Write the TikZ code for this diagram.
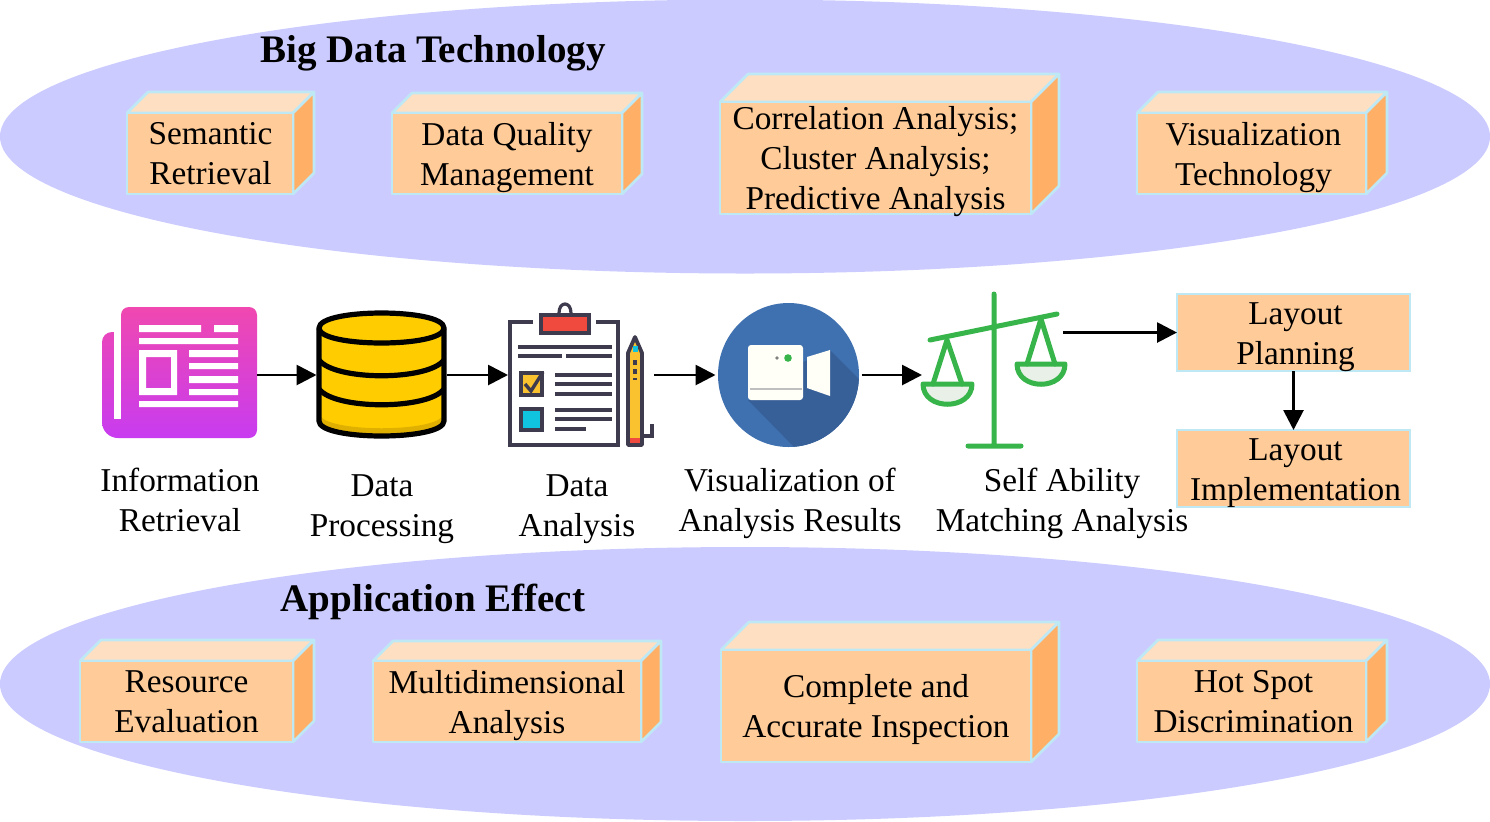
\documentclass[tikz,border=0pt]{standalone}
\usepackage{fontspec}
\setmainfont{Liberation Serif}
\usetikzlibrary{arrows.meta}
\definecolor{oval}{HTML}{CBCBFF}
\definecolor{facec}{HTML}{FFCC99}
\definecolor{topc}{HTML}{FFDFC2}
\definecolor{sidec}{HTML}{FFB066}
\definecolor{edgec}{HTML}{BFE8F5}
\definecolor{inkc}{HTML}{3E3B4E}
\definecolor{greenc}{HTML}{38B54A}
\definecolor{bluec}{HTML}{3F71B0}
\definecolor{blued}{HTML}{375F98}
\definecolor{dbyel}{HTML}{FFCC00}
\definecolor{dbdark}{HTML}{E0B000}
\definecolor{pencily}{HTML}{F9C22E}
\definecolor{clipred}{HTML}{F04A3E}
\definecolor{boxcyan}{HTML}{10C4E0}
\definecolor{newstop}{HTML}{F048B0}
\definecolor{newsbot}{HTML}{C83CF0}
\definecolor{panfill}{HTML}{E8F0E8}
\tikzset{
  x=0.5pt,y=-0.5pt,
  boxtext/.style={font=\fontsize{16.65}{20}\selectfont,align=center,text=black,inner sep=0pt,outer sep=0pt,
    execute at begin node={\rule{0pt}{15pt}},execute at end node={\rule[-5pt]{0pt}{5pt}}},
  boxedge/.style={draw=edgec,line width=1.3pt,line join=round},
  flatbox/.style={fill=facec,draw=edgec,line width=1.3pt,inner sep=0pt,outer sep=0pt},
  title/.style={font=\fontsize{19.5}{22}\selectfont\bfseries,text=black,inner sep=0pt},
  caption/.style={boxtext},
  icon/.style={inner sep=0pt,outer sep=0pt,minimum height=65pt},
  flow/.style={-{Triangle[length=10pt,width=10pt]},line width=1.4pt,black},
  inkline/.style={draw=inkc,line width=1.9pt},
  wline/.style={fill=white,draw=none},
  scale line/.style={draw=greenc,line width=2.5pt,line cap=round,line join=round},
}
% name, x0, y0, x1, y1, depth, text x offset, text
\newcommand{\cubebox}[8]{%
  \pgfmathsetlengthmacro{\cw}{(#4-#2)*0.5pt}%
  \pgfmathsetlengthmacro{\ch}{(#5-#3)*0.5pt}%
  \pgfmathsetmacro{\xa}{#2+#6}%
  \pgfmathsetmacro{\xb}{#4+#6}%
  \pgfmathsetmacro{\ya}{#3-#6}%
  \pgfmathsetmacro{\yb}{#5-#6}%
  \path[boxedge,fill=topc] (#2,#3) -- (\xa,\ya) -- (\xb,\ya) -- (#4,#3) -- cycle;
  \path[boxedge,fill=sidec] (#4,#3) -- (\xb,\ya) -- (\xb,\yb) -- (#4,#5) -- cycle;
  \node[boxedge,fill=facec,inner sep=0pt,outer sep=0pt,minimum width=\cw,minimum height=\ch] (#1) at ({(#2+#4)/2},{(#3+#5)/2}) {};
  \node[boxtext] (#1t) at ({(#2+#4)/2+#7},{(#3+#5)/2+5.2}) {#8};
}
\begin{document}
\begin{tikzpicture}
\useasboundingbox (0,0) rectangle (1490,821);
\fill[white] (0,0) rectangle (1490,821);
% ovals
\fill[oval] (745,136.5) ellipse [x radius=745,y radius=137];
\fill[oval] (745,684) ellipse [x radius=745,y radius=137];
\node[title] (t1) at (433,53) {Big Data Technology};
\node[title] (t2) at (433,602) {Application Effect};
% top boxes
\cubebox{b1}{127}{113}{293}{194}{21}{0.5}{Semantic\\Retrieval}
\cubebox{b2}{392}{113}{622}{194}{20}{0}{Data Quality\\Management}
\cubebox{b3}{720}{102}{1031}{214}{28}{0}{Correlation Analysis;\\Cluster Analysis;\\Predictive Analysis}
\cubebox{b4}{1137}{113}{1366}{194}{21}{2}{Visualization\\Technology}
% bottom boxes
\cubebox{c1}{80}{661}{293}{742}{21}{0}{Resource\\Evaluation}
\cubebox{c2}{373}{661}{641}{742}{20}{0}{Multidimensional\\Analysis}
\cubebox{c3}{721}{650}{1031}{762}{28}{0}{Complete and\\Accurate Inspection}
\cubebox{c4}{1137}{661}{1366}{742}{21}{2}{Hot Spot\\Discrimination}
% icon anchors
\node[icon,minimum width=77.5pt] (news) at (179.5,375) {};
\node[icon,minimum width=65pt] (db) at (381.5,375) {};
\node[icon,minimum width=73pt] (clip) at (581,375) {};
\node[icon,minimum width=73pt] (cam) at (788.5,375) {};
\node[icon,minimum width=72.5pt] (scl) at (994.5,375) {};
\coordinate (sclout) at (1063,332.5);
% newspaper
\shade[top color=newstop,bottom color=newsbot]
  (121,332) [rounded corners=4pt] -- (121,307) -- (257,307) -- (257,438) [rounded corners=8pt] -- (102,438) [rounded corners=5pt] -- (102,332) [sharp corners] -- (121,332) -- cycle;
\fill[white] (114,332) rectangle (121,419);
\fill[wline] (139,325) rectangle (201,332) (214,325) rectangle (238,332) (139,338) rectangle (238,344);
\fill[wline,even odd rule] (139,350) rectangle (177,395) (146,357) rectangle (171,388);
\fill[wline] (189,350) rectangle (238,357) (189,363) rectangle (238,369) (189,376) rectangle (238,383) (189,389) rectangle (238,395) (139,401) rectangle (238,407);
% database
\begin{scope}[line width=2.6pt,draw=black,line join=round]
\path[fill=dbyel] (319,328) -- (319,421) .. controls (319,441) and (444,441) .. (444,421) -- (444,328) .. controls (444,308) and (319,308) .. (319,328) -- cycle;
\fill[dbdark] (321,417) .. controls (335,432) and (428,432) .. (442,417) -- (442,421) .. controls (442,438) and (321,438) .. (321,421) -- cycle;
\draw (319,328) .. controls (319,348) and (444,348) .. (444,328);
\draw (319,360) .. controls (335,381) and (428,381) .. (444,360);
\draw (319,389) .. controls (335,410) and (428,410) .. (444,389);
\draw (319,328) -- (319,421) .. controls (319,441) and (444,441) .. (444,421) -- (444,328) .. controls (444,308) and (319,308) .. (319,328) -- cycle;
\end{scope}
% clipboard
\fill[white] (510,324) rectangle (618,445);
\draw[inkline] (533,322) -- (510,322) -- (510,445) -- (618,445) -- (618,322) -- (596,322);
\draw[inkline,fill=clipred] (541,315) rectangle (589,333);
\draw[inkline,line width=1.6pt] (559,313) .. controls (559,301) and (571,301) .. (571,313);
\draw[inkline,line width=2pt] (518,347) -- (612,347) (518,356) -- (562,356) (566,356) -- (612,356);
\draw[inkline,line width=2.4pt,fill=pencily] (521,373) rectangle (542,395);
\draw[inkline,line width=1.7pt] (525,384) -- (531,391) -- (543,372);
\draw[inkline,line width=2pt] (555,375) -- (612,375) (555,384) -- (612,384) (555,394) -- (612,394);
\draw[inkline,line width=2.4pt,fill=boxcyan] (521,409) rectangle (542,430);
\draw[inkline,line width=2pt] (555,410) -- (612,410) (555,419) -- (612,419) (555,429) -- (586,429);
% pencil
\draw[inkline,fill=pencily,line join=round] (628,353) -- (635,337) -- (642,353) -- (642,445) -- (628,445) -- cycle;
\fill[boxcyan] (632.5,346) rectangle (637.5,352);
\fill[clipred] (630,438) rectangle (640,443);
\draw[inkline,line width=1.6pt,dash pattern=on 2.5pt off 2pt] (635,360) -- (635,380);
\draw[inkline,line width=1.6pt] (642,436) -- (652,436) -- (652,424);
% camera
\begin{scope}
\clip (788.5,375) ellipse [x radius=70.5,y radius=72];
\fill[bluec] (718,302) rectangle (860,448);
\fill[blued] (748,400) -- (795,448) -- (860,448) -- (860,380) -- (830,350) -- (803,362) -- (803,345) -- (790,400) -- cycle;
\end{scope}
\fill[white!97!yellow,rounded corners=1.5pt] (748,345) rectangle (803,400);
\fill[white!97!yellow] (807,357) -- (830,350) -- (830,396) -- (807,388) -- cycle;
\fill[greenc] (788,358) circle [radius=3.8];
\fill[gray] (777,358) circle [radius=1.8];
\draw[gray!50,line width=1pt] (750,389) -- (802,389);
% scales
\draw[scale line,fill=panfill] (923,384) -- (972,384) .. controls (972,411) and (923,411) .. cycle;
\draw[scale line,fill=panfill] (1017,364) -- (1065,364) .. controls (1065,391) and (1017,391) .. cycle;
\draw[scale line] (933,384) -- (947,340) -- (962,384) (1027,364) -- (1041,319) -- (1055,364);
\draw[scale line] (994,294) -- (994,446) (968,446) -- (1021,446) (930,340) -- (1057,314);
% flat boxes
\node[flatbox,minimum width=116.5pt,minimum height=38.5pt] (plan) at (1293.5,332.5) {};
\node[flatbox,minimum width=116.5pt,minimum height=38.5pt] (impl) at (1293.5,468.5) {};
\node[boxtext] (plant) at (1295.5,338.5) {Layout\\Planning};
\node[boxtext] (implt) at (1295.5,474.5) {Layout\\Implementation};
% captions
\node[caption] (l1) at (180,505) {Information\\Retrieval};
\node[caption] (l2) at (382,510.5) {Data\\Processing};
\node[caption] (l3) at (577,510.5) {Data\\Analysis};
\node[caption] (l4) at (790,505) {Visualization of\\Analysis Results};
\node[caption] (l5) at (1062,504.5) {Self Ability\\Matching Analysis};
% connectors
\draw[flow] (news.east) -- (db.west);
\draw[flow] (db.east) -- (clip.west);
\coordinate (clipout) at (654,375);
\draw[flow] (clipout) -- (cam.west);
\draw[flow] (cam.east) -- (scl.west);
\draw[flow] (sclout) -- (plan.west);
\draw[flow] (plan.south) -- (impl.north);
\end{tikzpicture}
\end{document}
